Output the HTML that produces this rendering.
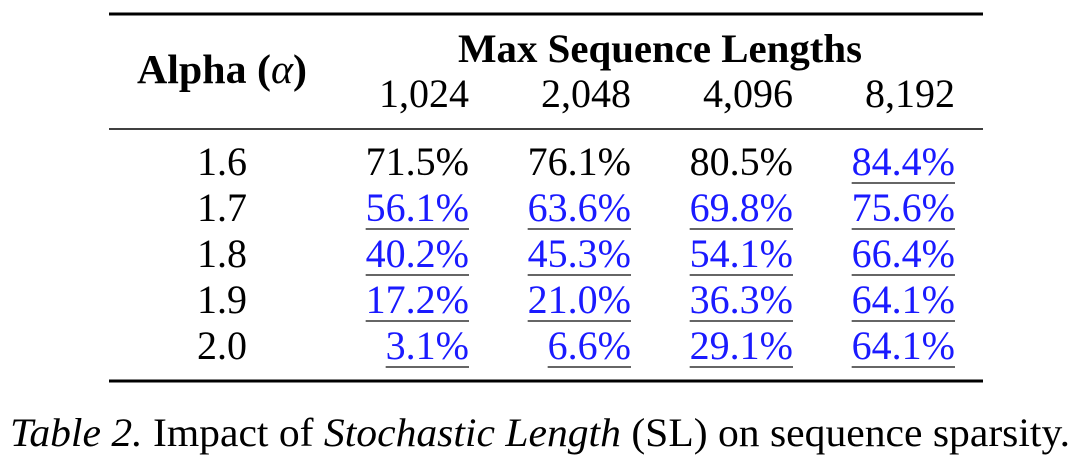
<!DOCTYPE html>
<html><head><meta charset="utf-8"><style>
html,body{margin:0;padding:0;background:#fff;width:1080px;height:476px;overflow:hidden}
svg{display:block}
text{font-family:"Liberation Serif",serif;fill:#000}
</style></head><body>
<svg id="t" width="1080" height="476" viewBox="0 0 1080 476">
<line x1="109" y1="14" x2="983" y2="14" stroke="#000" stroke-width="3"/>
<line x1="109" y1="129" x2="983" y2="129" stroke="#000" stroke-width="1.6"/>
<line x1="109" y1="381" x2="983" y2="381" stroke="#000" stroke-width="3"/>
<text x="137" y="83" font-size="41" font-weight="bold" textLength="170" lengthAdjust="spacingAndGlyphs">Alpha (<tspan font-style="italic" font-weight="normal">α</tspan>)</text>
<text x="458" y="62" font-size="40" font-weight="bold" textLength="404" lengthAdjust="spacingAndGlyphs">Max Sequence Lengths</text>
<text x="10" y="446" font-size="40" textLength="1060" lengthAdjust="spacingAndGlyphs"><tspan font-style="italic">Table 2.</tspan> Impact of <tspan font-style="italic">Stochastic Length</tspan> (SL) on sequence sparsity.</text>
</svg>
<script>
const lengths=["1,024","2,048","4,096","8,192"];
const alphas=["1.6","1.7","1.8","1.9","2.0"];
const values=[["71.5%","76.1%","80.5%","84.4%"],["56.1%","63.6%","69.8%","75.6%"],["40.2%","45.3%","54.1%","66.4%"],["17.2%","21.0%","36.3%","64.1%"],["3.1%","6.6%","29.1%","64.1%"]];
const highlighted=[[0,0,0,1],[1,1,1,1],[1,1,1,1],[1,1,1,1],[1,1,1,1]];
const svg=document.getElementById('t');const NS="http://www.w3.org/2000/svg";
const colX=i=>469+i*162; const rowY=r=>175+r*46;
function mk(tag,a){const e=document.createElementNS(NS,tag);for(const k in a)e.setAttribute(k,a[k]);svg.appendChild(e);return e;}
lengths.forEach((l,i)=>{const e=mk('text',{x:colX(i),y:107,'text-anchor':'end','font-size':40});e.textContent=l;

});
alphas.forEach((a,r)=>{const e=mk('text',{x:222,y:rowY(r),'text-anchor':'middle','font-size':40});e.textContent=a;


values[r].forEach((v,c)=>{const h=highlighted[r][c];const t=mk('text',{x:colX(c),y:rowY(r),'text-anchor':'end','font-size':40});
t.textContent=v;if(h)t.style.fill='#1a1aff';


if(h){const w=t.getComputedTextLength();const u=mk('line',{x1:colX(c)-w,x2:colX(c),y1:rowY(r)+8,y2:rowY(r)+8,stroke:'#333','stroke-width':1.6});

}});});
</script>
</body></html>
